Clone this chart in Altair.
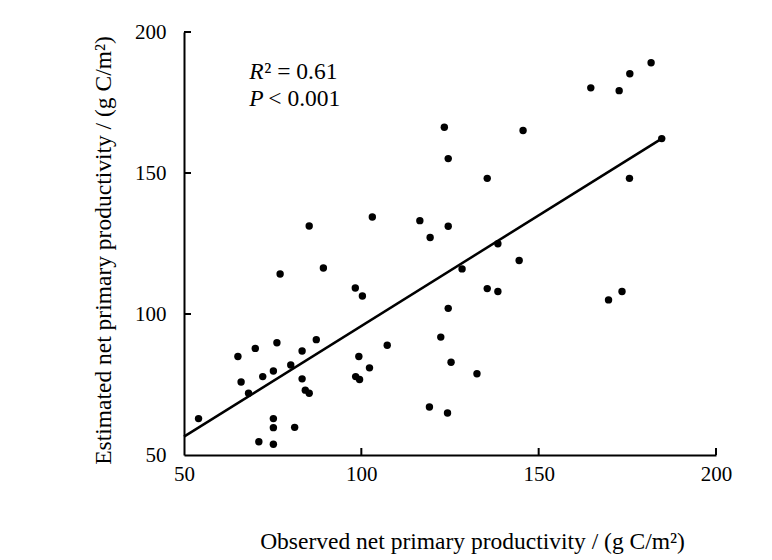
import altair as alt
import pandas as pd

# Observed vs estimated NPP (g C/m2)
observed = [54.1, 65.2, 66.1, 68.2, 70.1, 72.2, 71.1, 75.2, 76.2, 75.2, 75.2, 75.2,
            77.1, 80.1, 81.2, 83.3, 83.3, 84.2, 85.3, 85.3, 87.3, 89.3, 98.3, 100.3,
            99.3, 98.4, 99.5, 102.3, 103.1, 107.3, 116.5, 119.4, 123.4, 124.5, 124.5,
            128.4, 124.5, 122.4, 125.3, 132.6, 119.2, 124.3, 135.5, 138.5, 135.5, 138.5,
            144.5, 145.6, 164.7, 172.7, 175.7, 181.7, 184.7, 175.6, 169.7, 173.5]
estimated = [62.9, 84.9, 75.9, 71.9, 87.8, 77.8, 54.7, 79.8, 89.8, 62.9, 59.7, 53.8,
             114.2, 81.9, 59.8, 86.9, 77.0, 73.0, 71.9, 131.2, 90.9, 116.3, 109.2, 106.4,
             84.9, 77.8, 76.8, 80.9, 134.4, 88.9, 133.1, 127.1, 166.2, 155.1, 131.1,
             116.0, 102.0, 91.8, 82.9, 78.8, 67.0, 64.9, 148.1, 124.9, 109.0, 108.0,
             119.0, 165.1, 180.2, 179.2, 185.2, 189.1, 162.2, 148.1, 105.0, 108.0]

# Fitted line end points
fit_x = [50, 184.7]
fit_y = [56.5, 162.2]

tick_vals = [50, 100, 150, 200]
inner_ticks = [100, 150, 200]

ann_x = [68.4, 68.4]
ann_y = [185.8, 176.2]
ann_italic = ["R", "P"]
ann_rest = ["² = 0.61", "< 0.001"]

FONT = "Liberation Serif"
W, H = 532, 423

pts = pd.DataFrame({"obs": observed, "est": estimated})
fit = pd.DataFrame({"obs": fit_x, "est": fit_y})
ticks = pd.DataFrame({"v": inner_ticks})
ann = pd.DataFrame({"x": ann_x, "y": ann_y, "a": ann_italic, "b": ann_rest})

xs = alt.Scale(domain=[50, 200], nice=False, zero=False)
ys = alt.Scale(domain=[50, 200], nice=False, zero=False)

xaxis = alt.Axis(values=tick_vals, title="Observed net primary productivity / (g C/m²)",
                 titleX=288, titleY=93, titleBaseline="alphabetic", titleAnchor="middle",
                 titleAlign="center", labelFlush=False)
yaxis = alt.Axis(values=tick_vals, title="Estimated net primary productivity / (g C/m²)",
                 titleX=-74, titleY=218, titleBaseline="alphabetic", titleAngle=270,
                 titleAlign="center", titleAnchor="middle", labelFlush=False)

points = alt.Chart(pts).mark_circle(size=55, color="black", opacity=1).encode(
    x=alt.X("obs:Q", scale=xs, axis=xaxis),
    y=alt.Y("est:Q", scale=ys, axis=yaxis),
)

line = alt.Chart(fit).mark_line(color="black", strokeWidth=2.5).encode(
    x=alt.X("obs:Q", scale=xs),
    y=alt.Y("est:Q", scale=ys),
)

yticks = alt.Chart(ticks).mark_rule(color="black", strokeWidth=2).encode(
    y=alt.Y("v:Q", scale=ys), x=alt.value(0), x2=alt.value(7)
)
xticks = alt.Chart(ticks).mark_rule(color="black", strokeWidth=2).encode(
    x=alt.X("v:Q", scale=xs), y=alt.value(H), y2=alt.value(H - 7)
)

t_italic = alt.Chart(ann).mark_text(font=FONT, fontSize=23.5, fontStyle="italic",
                                    align="left", baseline="middle", color="black").encode(
    x=alt.X("x:Q", scale=xs), y=alt.Y("y:Q", scale=ys), text="a:N"
)
t_rest = alt.Chart(ann).mark_text(font=FONT, fontSize=23.5, align="left", baseline="middle",
                                  dx=19, color="black").encode(
    x=alt.X("x:Q", scale=xs), y=alt.Y("y:Q", scale=ys), text="b:N"
)
t_r2 = t_rest.transform_filter(alt.datum.a == "R").mark_text(
    font=FONT, fontSize=23.5, align="left", baseline="middle", dx=15, color="black")
t_p = t_rest.transform_filter(alt.datum.a == "P")

chart = alt.layer(line, points, yticks, xticks, t_italic, t_r2, t_p).properties(
    width=W, height=H,
    autosize=alt.AutoSizeParams(type="none"),
    padding={"left": 184, "top": 32, "right": 56, "bottom": 105},
    background="white",
).configure_view(stroke=None).configure_axis(
    grid=False, ticks=False, domainColor="black", domainWidth=2,
    labelFont=FONT, labelFontSize=21, labelColor="black",
    titleFont=FONT, titleFontSize=23.5, titleFontWeight="normal", titleColor="black",
).configure_axisX(labelPadding=8).configure_axisY(labelPadding=18)

chart.save("out.html", embed_options={"renderer": "svg", "actions": False})
